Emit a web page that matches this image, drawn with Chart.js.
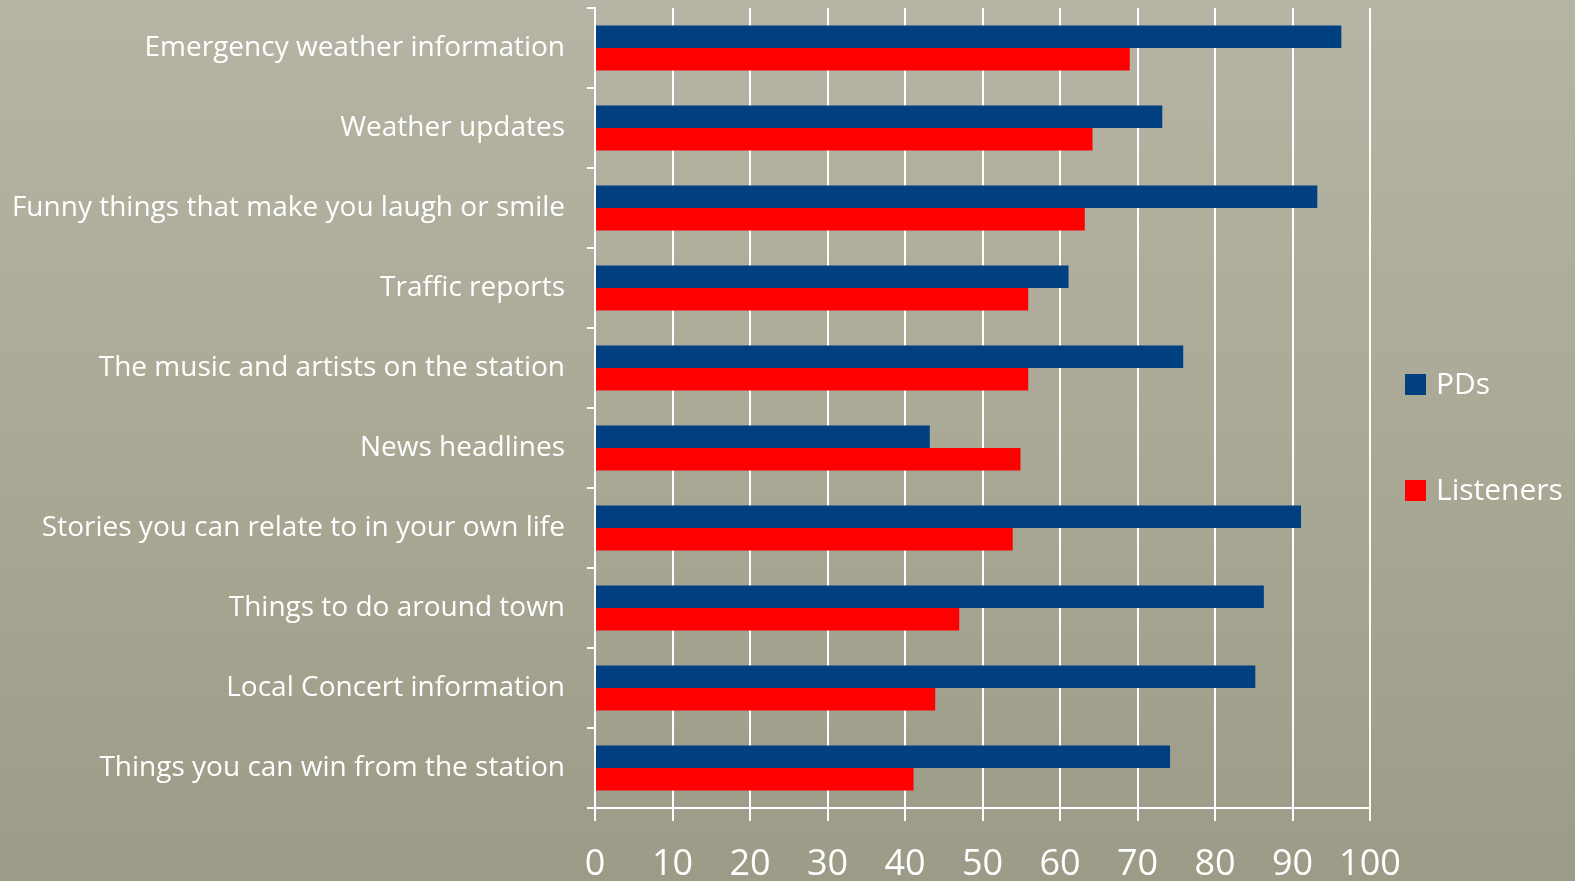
<!DOCTYPE html>
<html>
<head>
<meta charset="utf-8">
<script src="https://cdn.jsdelivr.net/npm/chart.js@4"></script>
<style>
  html, body { margin: 0; padding: 0; }
  body {
    width: 1575px;
    height: 881px;
    overflow: hidden;
    background: linear-gradient(180deg, #b6b5a5 0%, #aaa996 50%, #9c9b87 100%);
  }
  canvas { display: block; }
</style>
</head>
<body>
<canvas id="chart" width="1575" height="881"></canvas>
<script>
const categories = [
  "Emergency weather information",
  "Weather updates",
  "Funny things that make you laugh or smile",
  "Traffic reports",
  "The music and artists on the station",
  "News headlines",
  "Stories you can relate to in your own life",
  "Things to do around town",
  "Local Concert information",
  "Things you can win from the station",
];
const pdsValues = [96.3, 73.2, 93.2, 61.1, 75.9, 43.2, 91.1, 86.3, 85.2, 74.2];
const listenerValues = [69.0, 64.2, 63.2, 55.9, 55.9, 54.9, 53.9, 47.0, 43.9, 41.1];
const seriesNames = ["PDs", "Listeners"];
const seriesColors = ["#003f80", "#ff0000"];
const xTicks = [0, 10, 20, 30, 40, 50, 60, 70, 80, 90, 100];

const fontFamily = "'Open Sans', 'DejaVu Sans', sans-serif";

// legend drawn on the right, one item per dataset, far apart like the slide
const sideLegend = {
  id: "sideLegend",
  afterDraw(chart) {
    const ctx = chart.ctx;
    const area = chart.chartArea;
    const x = area.right + 35;
    const mid = chart.height / 2 - 3;
    const gap = 106;
    ctx.save();
    ctx.font = "30px " + fontFamily;
    ctx.textBaseline = "middle";
    ctx.textAlign = "left";
    chart.data.datasets.forEach((ds, i) => {
      const cy = mid + (i - 0.5) * gap;
      ctx.fillStyle = ds.backgroundColor;
      ctx.fillRect(x, cy - 10.5, 21, 21);
      ctx.fillStyle = "#ffffff";
      ctx.fillText(ds.label, x + 31, cy + 1);
    });
    ctx.restore();
  },
};

new Chart(document.getElementById("chart"), {
  type: "bar",
  data: {
    labels: categories,
    datasets: [
      {
        label: seriesNames[0],
        data: pdsValues,
        backgroundColor: seriesColors[0],
        categoryPercentage: 0.5625,
        barPercentage: 1.0,
      },
      {
        label: seriesNames[1],
        data: listenerValues,
        backgroundColor: seriesColors[1],
        categoryPercentage: 0.5625,
        barPercentage: 1.0,
      },
    ],
  },
  options: {
    indexAxis: "y",
    responsive: false,
    animation: false,
    layout: { padding: { top: 8, right: 205, left: 0, bottom: 0 } },
    plugins: {
      legend: { display: false },
      tooltip: { enabled: false },
    },
    scales: {
      x: {
        min: 0,
        max: 100,
        afterBuildTicks: (scale) => {
          scale.ticks = xTicks.map((v) => ({ value: v }));
        },
        afterFit: (scale) => {
          scale.height = 73;
        },
        grid: { color: "#ffffff", lineWidth: 2, tickLength: 13 },
        border: { display: true, color: "#ffffff", width: 2 },
        ticks: {
          color: "#ffffff",
          font: { family: fontFamily, size: 36 },
          padding: 22,
          maxRotation: 0,
        },
      },
      y: {
        afterFit: (scale) => {
          scale.width = 595;
          scale.paddingTop = 0;
          scale.paddingBottom = 0;
        },
        grid: {
          offset: true,
          drawOnChartArea: false,
          color: "#ffffff",
          lineWidth: 2,
          tickLength: 8,
        },
        border: { display: true, color: "#ffffff", width: 2 },
        ticks: {
          color: "#ffffff",
          font: { family: fontFamily, size: 28 },
          padding: 22,
        },
      },
    },
  },
  plugins: [sideLegend],
});
</script>
</body>
</html>
